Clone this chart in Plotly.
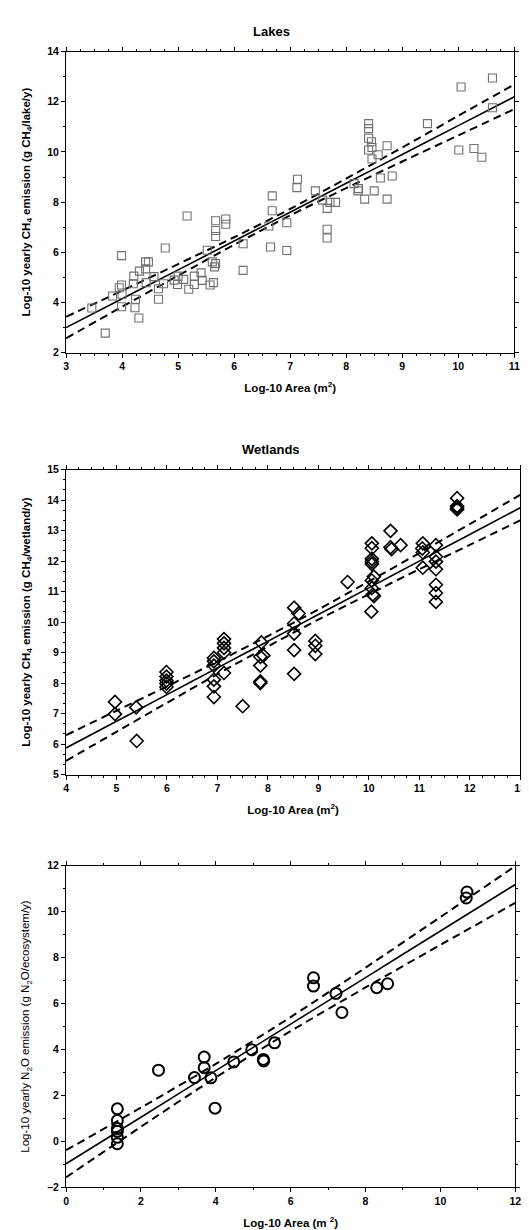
import plotly.graph_objects as go

# ---------------- data ----------------
lakes_x = [3.46, 3.70, 3.83, 3.95, 3.99, 3.99, 3.99, 4.00, 4.21, 4.20, 4.24, 4.23, 4.30, 4.31,
           4.42, 4.42, 4.47, 4.43, 4.57, 4.65, 4.65, 4.74, 4.77, 4.93, 4.99, 5.00, 5.10, 5.16,
           5.19, 5.29, 5.29, 5.41, 5.43, 5.52, 5.57, 5.61, 5.63, 5.65, 5.67, 5.67, 5.67, 5.67,
           5.85, 5.85, 6.16, 6.16, 6.62, 6.65, 6.68, 6.68, 6.94, 6.94, 7.12, 7.13, 7.45, 7.58,
           7.66, 7.66, 7.66, 7.71, 7.81, 8.14, 8.21, 8.22, 8.33, 8.40, 8.40, 8.40, 8.40, 8.45,
           8.46, 8.46, 8.50, 8.57, 8.61, 8.73, 8.73, 8.82, 9.45, 10.01, 10.05, 10.28, 10.42,
           10.61, 10.61]
lakes_y = [3.78, 2.78, 4.26, 4.59, 5.87, 4.70, 3.83, 4.33, 5.05, 4.75, 4.13, 3.79, 3.38, 5.25,
           5.62, 5.34, 5.62, 4.79, 5.03, 4.55, 4.13, 4.75, 6.17, 4.89, 4.72, 5.05, 4.92, 7.45,
           4.53, 5.05, 4.72, 5.18, 4.88, 6.08, 4.70, 5.62, 4.79, 5.42, 5.55, 7.26, 6.87, 6.63,
           7.33, 7.12, 6.34, 5.28, 7.05, 6.21, 8.25, 7.66, 7.18, 6.07, 8.58, 8.91, 8.45, 8.08,
           7.75, 6.92, 6.57, 7.99, 7.99, 8.74, 8.45, 8.54, 8.12, 11.13, 10.93, 10.55, 10.08, 10.41,
           10.18, 9.72, 8.45, 9.89, 8.96, 10.25, 8.12, 9.04, 11.13, 10.08, 12.59, 10.14, 9.79,
           12.95, 11.76]
lakes_line_x = [3, 4, 5, 6, 7, 8, 9, 10, 11]
lakes_fit = [3.00, 4.15, 5.30, 6.45, 7.60, 8.75, 9.90, 11.05, 12.20]
lakes_upper = [3.43, 4.47, 5.53, 6.60, 7.73, 8.94, 10.18, 11.44, 12.69]
lakes_lower = [2.57, 3.83, 5.07, 6.30, 7.47, 8.56, 9.62, 10.66, 11.71]

wet_x = [4.97, 4.97, 5.39, 5.40, 5.99, 5.99, 5.99, 5.99, 5.99, 6.93, 6.93, 6.93, 6.93, 6.93,
         6.93, 7.13, 7.13, 7.13, 7.13, 7.13, 7.50, 7.87, 7.85, 7.91, 7.85, 7.85, 7.85, 8.52,
         8.52, 8.52, 8.61, 8.52, 8.52, 8.94, 8.94, 8.94, 9.58, 10.06, 10.06, 10.06, 10.06,
         10.06, 10.06, 10.10, 10.06, 10.08, 10.10, 10.05, 10.43, 10.43, 10.45, 10.63, 11.07,
         11.06, 11.07, 11.07, 11.33, 11.33, 11.33, 11.33, 11.33, 11.33, 11.33, 11.75, 11.75,
         11.75, 11.75]
wet_y = [7.38, 6.98, 7.20, 6.10, 8.36, 8.21, 8.08, 7.98, 7.87, 8.82, 8.71, 8.57, 8.11, 7.89,
         7.54, 9.44, 9.30, 9.15, 9.00, 8.33, 7.24, 9.33, 8.86, 8.90, 8.57, 8.05, 8.00, 10.47,
         9.95, 9.62, 10.28, 9.08, 8.30, 9.38, 9.22, 8.95, 11.31, 12.58, 12.42, 12.07, 11.98,
         11.90, 11.36, 11.49, 11.11, 10.90, 10.85, 10.34, 12.99, 12.45, 12.39, 12.52, 12.58,
         12.41, 12.28, 11.78, 12.52, 12.14, 11.98, 11.73, 11.22, 10.95, 10.66, 14.06, 13.80,
         13.74, 13.69]
wet_line_x = [4, 5, 6, 7, 8, 9, 10, 11, 12, 13]
wet_fit = [5.87, 6.745, 7.62, 8.495, 9.37, 10.245, 11.12, 11.995, 12.87, 13.745]
wet_upper = [6.29, 7.09, 7.89, 8.70, 9.54, 10.41, 11.33, 12.26, 13.21, 14.17]
wet_lower = [5.45, 6.40, 7.35, 8.29, 9.20, 10.08, 10.91, 11.73, 12.53, 13.33]

n2o_x = [1.37, 1.37, 1.37, 1.37, 1.37, 1.37, 2.47, 3.43, 3.69, 3.69, 3.87, 3.98, 4.48, 4.96,
         5.27, 5.28, 5.57, 6.61, 6.61, 7.21, 7.37, 8.30, 8.59, 10.71, 10.69]
n2o_y = [1.42, 0.91, 0.56, 0.44, 0.18, -0.10, 3.10, 2.78, 3.67, 3.21, 2.77, 1.45, 3.46, 3.99,
         3.57, 3.50, 4.29, 7.12, 6.76, 6.44, 5.61, 6.69, 6.86, 10.85, 10.59]
n2o_line_x = [0, 2, 4, 6, 8, 10, 12]
n2o_fit = [-0.97, 1.055, 3.08, 5.105, 7.13, 9.155, 11.18]
n2o_upper = [-0.38, 1.47, 3.375, 5.41, 7.56, 9.76, 11.98]
n2o_lower = [-1.56, 0.64, 2.785, 4.80, 6.70, 8.55, 10.38]

# ---------------- figure ----------------
W, H = 529, 1230
FONT = "Arial, Liberation Sans, sans-serif"
fig = go.Figure()


def add_panel(idx, xs, ys, symbol, mcolor, msize, mwidth, lx, fit, up, lo):
    xa = "x" if idx == 1 else f"x{idx}"
    ya = "y" if idx == 1 else f"y{idx}"
    for yy, dash, w in [(fit, "solid", 1.6), (up, "8px,5px", 2.0), (lo, "8px,5px", 2.0)]:
        fig.add_trace(go.Scatter(x=lx, y=yy, mode="lines", xaxis=xa, yaxis=ya,
                                 line=dict(color="black", width=w, dash=dash, shape="spline",
                                           smoothing=0.8),
                                 showlegend=False, hoverinfo="skip"))
    fig.add_trace(go.Scatter(x=xs, y=ys, mode="markers", xaxis=xa, yaxis=ya,
                             marker=dict(symbol=symbol, size=msize, color="rgba(255,255,255,0)",
                                         line=dict(color=mcolor, width=mwidth)),
                             showlegend=False, hoverinfo="skip"))


add_panel(1, lakes_x, lakes_y, "square", "#707070", 8, 1.1,
          lakes_line_x, lakes_fit, lakes_upper, lakes_lower)
add_panel(2, wet_x, wet_y, "diamond", "black", 10, 1.6,
          wet_line_x, wet_fit, wet_upper, wet_lower)
add_panel(3, n2o_x, n2o_y, "circle", "black", 11, 2.0,
          n2o_line_x, n2o_fit, n2o_upper, n2o_lower)


def px_dom_x(a, b):
    return [a / W, b / W]


def px_dom_y(top, bottom):
    return [1 - bottom / H, 1 - top / H]


tickfont = dict(family=FONT, size=10.5, color="black", weight="bold")


def axis(domain, rng, dtick, minor_dtick, anchor, title, title_weight="bold", standoff=8,
         tsize=11.5):
    return dict(domain=domain, range=rng, dtick=dtick, tick0=rng[0], anchor=anchor,
                showgrid=False, zeroline=False, showline=True, linecolor="black", linewidth=1,
                mirror="ticks", ticks="outside", ticklen=4, tickwidth=1, tickcolor="black",
                minor=dict(dtick=minor_dtick, tick0=rng[0], ticks="outside", ticklen=2,
                           tickwidth=1, tickcolor="black", showgrid=False),
                tickfont=tickfont,
                title=dict(text=title, standoff=standoff,
                           font=dict(family=FONT, size=tsize, color="black",
                                     weight=title_weight)))


xt = "Log-10 Area (m<sup>2</sup>)"
fig.update_layout(
    width=W, height=H, margin=dict(l=0, r=0, t=0, b=0),
    paper_bgcolor="white", plot_bgcolor="white",
    xaxis=axis(px_dom_x(56, 512), [3, 11], 1, 0.25, "y", xt, standoff=12),
    yaxis=axis(px_dom_y(38, 342), [2, 14], 2, 1, "x",
               "Log-10 yearly CH<sub>4</sub> emission (g CH<sub>4</sub>/lake/y)", standoff=14),
    xaxis2=axis(px_dom_x(56, 518), [4, 13], 1, 0.25, "y2", xt, standoff=12),
    yaxis2=axis(px_dom_y(460, 768), [5, 15], 1, 1 / 3, "x2",
                "Log-10 yearly CH<sub>4</sub> emission (g CH<sub>4</sub>/wetland/y)", standoff=14),
    xaxis3=axis(px_dom_x(56, 513), [0, 12], 2, 1, "y3", "Log-10 Area (m <sup>2</sup>)",
                standoff=12),
    yaxis3=axis(px_dom_y(860, 1185), [-2, 12], 2, 1, "x3",
                "Log-10 yearly N<sub>2</sub>O emission (g N<sub>2</sub>O/ecosystem/y)",
                title_weight="normal", standoff=14),
)

for text, ypx in [("Lakes", 18), ("Wetlands", 440)]:
    fig.add_annotation(text=text, x=0.5, xref="paper", y=1 - ypx / H, yref="paper",
                       showarrow=False, xanchor="center", yanchor="middle",
                       font=dict(family=FONT, size=13, color="black", weight="bold"))

fig.write_html("out.html")
